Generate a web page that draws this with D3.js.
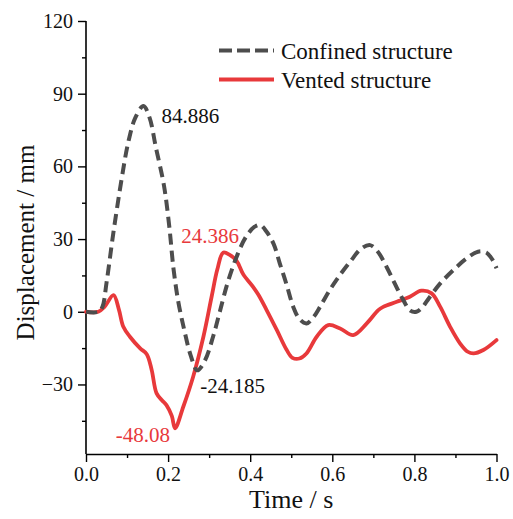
<!DOCTYPE html>
<html>
<head>
<meta charset="utf-8">
<script src="https://cdn.jsdelivr.net/npm/d3@7/dist/d3.min.js"></script>
<style>
  html, body { margin: 0; padding: 0; background: #ffffff; }
  svg { display: block; }
  svg text { font-family: "Liberation Serif", "Times New Roman", Times, serif !important; }
</style>
</head>
<body>
<div id="chart"></div>
<script>
// Time (s) and displacement (mm) for the two structures
const confinedTime = [0, 0.03, 0.04, 0.05, 0.067, 0.087, 0.103, 0.12, 0.14, 0.155, 0.17, 0.19, 0.203, 0.213, 0.225, 0.24, 0.255, 0.271, 0.29, 0.31, 0.326, 0.345, 0.37, 0.39, 0.41, 0.424, 0.44, 0.457, 0.472, 0.489, 0.505, 0.52, 0.537, 0.555, 0.57, 0.594, 0.62, 0.645, 0.67, 0.692, 0.71, 0.732, 0.752, 0.773, 0.79, 0.805, 0.82, 0.835, 0.863, 0.895, 0.927, 0.955, 0.975, 0.99, 1.0];
const confinedDisp = [0, 0, 2, 12, 33, 55, 70, 80, 84.886, 80, 68, 52, 35, 18, 4, -8, -18, -24.185, -20, -10, 0, 12, 24, 31, 35, 35.8, 33, 28, 20, 11, 2, -3, -4.8, -2, 2, 9, 15.5, 21, 26, 27.5, 25, 18.6, 11.7, 4.8, 0.5, 0, 2, 5.5, 11.7, 17.2, 22, 24.8, 24.5, 21.5, 18];

const ventedTime = [0, 0.03, 0.045, 0.067, 0.08, 0.091, 0.107, 0.132, 0.148, 0.16, 0.172, 0.185, 0.196, 0.209, 0.217, 0.237, 0.261, 0.286, 0.306, 0.32, 0.334, 0.35, 0.367, 0.383, 0.407, 0.42, 0.44, 0.465, 0.489, 0.503, 0.52, 0.537, 0.562, 0.59, 0.619, 0.651, 0.684, 0.712, 0.724, 0.757, 0.789, 0.817, 0.842, 0.863, 0.887, 0.911, 0.93, 0.944, 0.968, 1.0];
const ventedDisp = [0, 0, 2, 6.9, 1, -6.2, -10.3, -15.1, -17.5, -24, -33.7, -36.5, -38.5, -43, -48.08, -39.2, -26.8, -10.3, 6.2, 17.5, 24.386, 23.5, 21, 15.5, 10.3, 7, 0.7, -7.6, -15.8, -19, -19.3, -17.2, -10.3, -5.5, -6.9, -9.6, -4.8, 0.7, 2, 4.1, 6.2, 8.7, 7.6, 2, -6.2, -13, -16.5, -17.2, -15.8, -11.7];

const xTicks = [0, 0.2, 0.4, 0.6, 0.8, 1.0];
const xMinorTicks = [0.1, 0.3, 0.5, 0.7, 0.9];
const yTicks = [-30, 0, 30, 60, 90, 120];
const yMinorTicks = [-45, -15, 15, 45, 75, 105];

const seriesNames = ["Confined structure", "Vented structure"];

// Extreme values marked on the curves: series index, time, value
const peakSeries = [0, 0, 1, 1];
const peakTime = [0.14, 0.271, 0.217, 0.334];
const peakValue = [84.886, -24.185, -48.08, 24.386];

const width = 513, height = 519;
const RED = "#e8393b", GRAY = "#4d4d4d";
const SERIF = "'Liberation Serif', 'Times New Roman', Times, serif";

const svg = d3.select("#chart").append("svg")
  .attr("width", width).attr("height", height)
  .attr("font-family", SERIF);

svg.append("rect").attr("width", width).attr("height", height).attr("fill", "#ffffff");

const x = d3.scaleLinear().domain([0, 1]).range([86, 496.5]);
const y = d3.scaleLinear().domain([-58.7, 120]).range([454, 21]);

// Axes (ticks point outward, no frame)
const xAxis = svg.append("g").attr("transform", `translate(0,${y(-58.7)})`)
  .call(d3.axisBottom(x).tickValues(xTicks).tickFormat(d3.format(".1f")).tickSize(8).tickSizeOuter(0));
svg.append("g").attr("transform", `translate(0,${y(-58.7)})`)
  .call(d3.axisBottom(x).tickValues(xMinorTicks).tickFormat("").tickSize(4).tickSizeOuter(0))
  .call(g => g.select(".domain").remove());

const yAxis = svg.append("g").attr("transform", `translate(${x(0)},0)`)
  .call(d3.axisLeft(y).tickValues(yTicks).tickSize(8).tickSizeOuter(0));
svg.append("g").attr("transform", `translate(${x(0)},0)`)
  .call(d3.axisLeft(y).tickValues(yMinorTicks).tickFormat("").tickSize(4).tickSizeOuter(0))
  .call(g => g.select(".domain").remove());

svg.selectAll("g").attr("font-family", SERIF);
svg.selectAll(".domain").attr("stroke", "#000").attr("stroke-width", 1.6);
svg.selectAll(".tick line").attr("stroke", "#000").attr("stroke-width", 1.4);
xAxis.selectAll(".tick text")
  .attr("font-size", 20).attr("fill", "#111").attr("dy", "0.71em").attr("y", 13);
yAxis.selectAll(".tick text")
  .attr("font-size", 20).attr("fill", "#111").attr("x", -13);
yAxis.select(".domain").attr("d", `M0,${y(-58.7)}V${y(120)}`);

// Axis titles
svg.append("text")
  .attr("x", (x(0) + x(1)) / 2).attr("y", 508)
  .attr("text-anchor", "middle").attr("font-size", 26).attr("fill", "#111")
  .text("Time / s");
svg.append("text")
  .attr("transform", `translate(34,${(y(-58.7) + y(120)) / 2 + 5}) rotate(-90)`)
  .attr("text-anchor", "middle").attr("font-size", 25).attr("fill", "#111")
  .text("Displacement / mm");

// Curves
const line = d3.line()
  .x(d => x(d[0])).y(d => y(d[1]))
  .curve(d3.curveCatmullRom.alpha(0.5));

const confined = confinedTime.map((t, i) => [t, confinedDisp[i]]);
const vented = ventedTime.map((t, i) => [t, ventedDisp[i]]);

svg.append("path").datum(vented)
  .attr("d", line).attr("fill", "none")
  .attr("stroke", RED).attr("stroke-width", 3.8)
  .attr("stroke-linejoin", "round").attr("stroke-linecap", "round");

svg.append("path").datum(confined)
  .attr("d", line).attr("fill", "none")
  .attr("stroke", GRAY).attr("stroke-width", 4)
  .attr("stroke-dasharray", "11,6");

// Peak value labels
const labelStyle = [
  { dx: 18, dy: 17, anchor: "start" },
  { dx: 3, dy: 23, anchor: "start" },
  { dx: -5, dy: 14, anchor: "end" },
  { dx: 16, dy: -10, anchor: "end" }
];
peakValue.forEach((v, i) => {
  const s = labelStyle[i];
  svg.append("text")
    .attr("x", x(peakTime[i]) + s.dx).attr("y", y(v) + s.dy)
    .attr("text-anchor", s.anchor).attr("font-size", 21)
    .attr("fill", peakSeries[i] === 0 ? "#111" : RED)
    .text(String(v));
});

// Legend
const legendRows = [
  { y: 50.5, stroke: GRAY, dash: "13,5", w: 4 },
  { y: 79.5, stroke: RED, dash: null, w: 3.8 }
];
seriesNames.forEach((name, i) => {
  const r = legendRows[i];
  svg.append("line")
    .attr("x1", 219).attr("x2", 274).attr("y1", r.y).attr("y2", r.y)
    .attr("stroke", r.stroke).attr("stroke-width", r.w)
    .attr("stroke-dasharray", r.dash);
  svg.append("text")
    .attr("x", 281).attr("y", r.y + 8)
    .attr("font-size", 23).attr("fill", "#111")
    .text(name);
});
</script>
</body>
</html>
